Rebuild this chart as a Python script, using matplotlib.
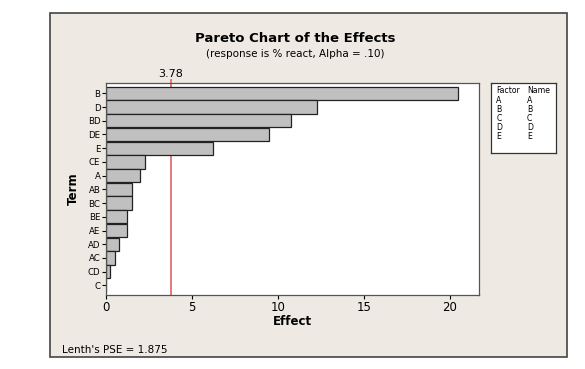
import matplotlib.pyplot as plt
from matplotlib.patches import Rectangle

terms = ["B", "D", "BD", "DE", "E", "CE", "A", "AB", "BC", "BE", "AE", "AD", "AC", "CD", "C"]
effects = [20.5, 12.25, 10.75, 9.5, 6.25, 2.25, 2.0, 1.5, 1.5, 1.25, 1.25, 0.75, 0.5, 0.25, 0.02]
factors = ["A", "B", "C", "D", "E"]
names = ["A", "B", "C", "D", "E"]
ref_line = 3.78
pse = 1.875

W, H = 585, 369
fig = plt.figure(figsize=(W / 100, H / 100), dpi=100)
fig.patch.set_facecolor("white")

# beige panel behind the chart
fig.patches.append(Rectangle((50 / W, 1 - 357 / H), 517 / W, 344 / H, transform=fig.transFigure,
                             facecolor="#eeeae3", edgecolor="#444444", linewidth=1.2, zorder=-10))

ax = fig.add_axes([106 / W, 1 - 295 / H, 373 / W, 212 / H])
ax.set_facecolor("white")
pos = list(range(len(terms) - 1, -1, -1))
ax.barh(pos, effects, height=0.97, color="#c0c0c0", edgecolor="#222222", linewidth=0.9, zorder=2)
ax.axvline(ref_line, color="#e07070", linewidth=1.3, zorder=1)
ax.set_xlim(0, 21.7)
ax.set_ylim(-0.7, 14.75)
ax.set_yticks(pos)
ax.set_yticklabels(terms, fontsize=6.2)
ax.set_xticks([0, 5, 10, 15, 20])
ax.tick_params(axis="x", labelsize=8.5, length=3, width=0.8, pad=1)
ax.tick_params(axis="y", length=3, width=0.8, pad=1)
for s in ax.spines.values():
    s.set_color("#555555")
    s.set_linewidth(0.9)
ax.set_xlabel("Effect", fontsize=8.5, fontweight="bold", labelpad=1)
ax.set_ylabel("Term", fontsize=8.5, fontweight="bold", labelpad=6)

# reference value on top
ax.annotate(str(ref_line), xy=(ref_line, 1), xycoords=("data", "axes fraction"),
            xytext=(0, 3), textcoords="offset points", ha="center", va="bottom", fontsize=8)
ax.plot([ref_line, ref_line], [1, 1.015], color="#e07070", lw=1.3, transform=ax.get_xaxis_transform(),
        clip_on=False)

fig.text(295 / W, 1 - 38 / H, "Pareto Chart of the Effects", ha="center", va="center",
         fontsize=9.5, fontweight="bold")
fig.text(295 / W, 1 - 54 / H, "(response is % react, Alpha = .10)", ha="center", va="center", fontsize=7.5)
fig.text(62 / W, 1 - 350 / H, "Lenth's PSE = " + str(pse), ha="left", va="center", fontsize=7.5)

# factor/name key
lg = fig.add_axes([491 / W, 1 - 153 / H, 65 / W, 70 / H])
lg.set_xticks([])
lg.set_yticks([])
for s in lg.spines.values():
    s.set_color("#333333")
    s.set_linewidth(0.9)
lg.text(0.08, 0.89, "Factor", fontsize=5.6, va="center", transform=lg.transAxes)
lg.text(0.55, 0.89, "Name", fontsize=5.6, va="center", transform=lg.transAxes)
for i, (f, n) in enumerate(zip(factors, names)):
    y = 0.75 - i * 0.13
    lg.text(0.08, y, f, fontsize=5.6, va="center", transform=lg.transAxes)
    lg.text(0.55, y, n, fontsize=5.6, va="center", transform=lg.transAxes)

fig.savefig("out.png", dpi=100)
